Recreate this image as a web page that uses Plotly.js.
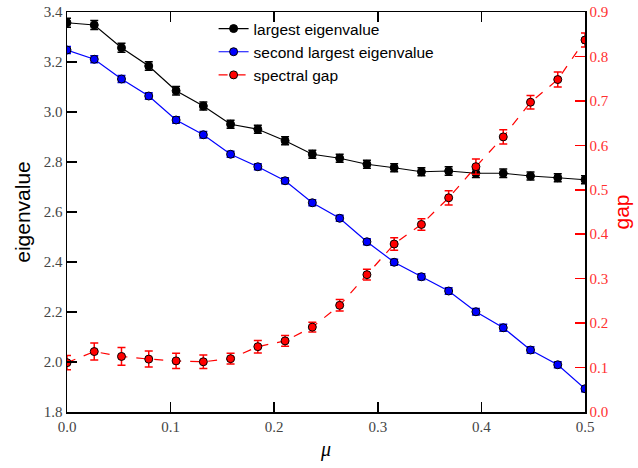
<!DOCTYPE html>
<html>
<head>
<meta charset="utf-8">
<script src="https://cdn.plot.ly/plotly-3.0.1.min.js"></script>
<style>
  html, body { margin: 0; padding: 0; background: #fff; }
  #chart { width: 638px; height: 468px; }
</style>
</head>
<body>
<div id="chart"></div>
<script>
// Coupling parameter mu
const mu = [0.0000, 0.0263, 0.0526, 0.0789, 0.1053, 0.1316, 0.1579, 0.1842, 0.2105, 0.2368,
            0.2632, 0.2895, 0.3158, 0.3421, 0.3684, 0.3947, 0.4211, 0.4474, 0.4737, 0.5000];

// Largest eigenvalue and its error
const largest = [3.357, 3.348, 3.257, 3.184, 3.085, 3.024, 2.951, 2.931, 2.885, 2.831,
                 2.815, 2.791, 2.777, 2.761, 2.764, 2.755, 2.755, 2.744, 2.737, 2.729];
const largestErr = [0.018, 0.018, 0.018, 0.017, 0.017, 0.016, 0.016, 0.016, 0.016, 0.016,
                    0.016, 0.016, 0.016, 0.016, 0.017, 0.017, 0.017, 0.016, 0.016, 0.016];

// Second largest eigenvalue and its error
const second = [3.248, 3.211, 3.132, 3.064, 2.968, 2.909, 2.831, 2.781, 2.725, 2.637,
                2.575, 2.481, 2.399, 2.341, 2.284, 2.201, 2.137, 2.048, 1.989, 1.893];
const secondErr = [0.014, 0.014, 0.014, 0.013, 0.013, 0.013, 0.012, 0.012, 0.012, 0.012,
                   0.012, 0.012, 0.012, 0.012, 0.013, 0.013, 0.014, 0.013, 0.012, 0.012];

// Spectral gap and its error
const gap = [0.111, 0.136, 0.125, 0.119, 0.115, 0.113, 0.120, 0.147, 0.160, 0.191,
             0.240, 0.309, 0.378, 0.422, 0.482, 0.552, 0.619, 0.697, 0.748, 0.837];
const gapErr = [0.016, 0.019, 0.020, 0.018, 0.017, 0.015, 0.012, 0.014, 0.012, 0.011,
                0.013, 0.012, 0.014, 0.013, 0.016, 0.017, 0.016, 0.015, 0.017, 0.016];

const xTicks = [0.0, 0.1, 0.2, 0.3, 0.4, 0.5];
const yTicks = [1.8, 2.0, 2.2, 2.4, 2.6, 2.8, 3.0, 3.2, 3.4];
const y2Ticks = [0.0, 0.1, 0.2, 0.3, 0.4, 0.5, 0.6, 0.7, 0.8, 0.9];

const serif = '"Liberation Serif", "DejaVu Serif", serif';
const sans = '"Liberation Sans", Arial, sans-serif';

function series(name, y, err, color, dash, axis) {
  return {
    type: 'scatter', mode: 'lines+markers', name: name,
    x: mu, y: y, yaxis: axis,
    line: { color: color, width: 1.2, dash: dash },
    marker: { color: color, size: 8, line: { color: '#000', width: 1 } },
    error_y: { type: 'data', array: err, visible: true, color: color, thickness: 1.5, width: 4 }
  };
}

const traces = [
  series('largest eigenvalue', largest, largestErr, '#000000', 'solid', 'y'),
  series('second largest eigenvalue', second, secondErr, '#0000ff', 'solid', 'y'),
  series('spectral gap', gap, gapErr, '#ff0000', 'dash', 'y2')
];

const layout = {
  width: 638, height: 468,
  margin: { l: 67, r: 53, t: 12, b: 56 },
  paper_bgcolor: '#fff', plot_bgcolor: '#fff',
  showlegend: true,
  legend: {
    x: 0.283, y: 1.0, xanchor: 'left', yanchor: 'top',
    bgcolor: 'rgba(0,0,0,0)', borderwidth: 0,
    font: { family: sans, size: 15.5, color: '#000' },
    tracegroupgap: 0, itemwidth: 30
  },
  xaxis: {
    range: [0, 0.5], tickvals: xTicks, ticktext: xTicks.map(v => v.toFixed(1)),
    showgrid: false, zeroline: false,
    showline: true, linecolor: '#000', linewidth: 1.5, mirror: 'ticks',
    ticks: 'inside', ticklen: 10, tickwidth: 1.5, tickcolor: '#000',
    tickfont: { family: serif, size: 15, color: '#444' },
    title: { text: '<i>μ</i>', font: { family: serif, size: 20, color: '#000' }, standoff: 8 }
  },
  yaxis: {
    range: [1.8, 3.4], tickvals: yTicks, ticktext: yTicks.map(v => v.toFixed(1)),
    showgrid: false, zeroline: false,
    showline: true, linecolor: '#000', linewidth: 1.5, mirror: true,
    ticks: 'inside', ticklen: 10, tickwidth: 1.5, tickcolor: '#000',
    tickfont: { family: serif, size: 15, color: '#444' },
    title: { text: 'eigenvalue', font: { family: sans, size: 21, color: '#000' }, standoff: 7 }
  },
  yaxis2: {
    overlaying: 'y', side: 'right', anchor: 'x',
    range: [0, 0.9], tickvals: y2Ticks, ticktext: y2Ticks.map(v => v.toFixed(1)),
    showgrid: false, zeroline: false,
    showline: true, linecolor: '#000', linewidth: 1.5,
    ticks: 'inside', ticklen: 10, tickwidth: 1.5, tickcolor: '#ff0000',
    tickfont: { family: serif, size: 15, color: '#ff3030' },
    title: { text: 'gap', font: { family: sans, size: 21, color: '#ff0000' }, standoff: 6 }
  }
};

Plotly.newPlot('chart', traces, layout, { displayModeBar: false, staticPlot: true });
</script>
</body>
</html>
